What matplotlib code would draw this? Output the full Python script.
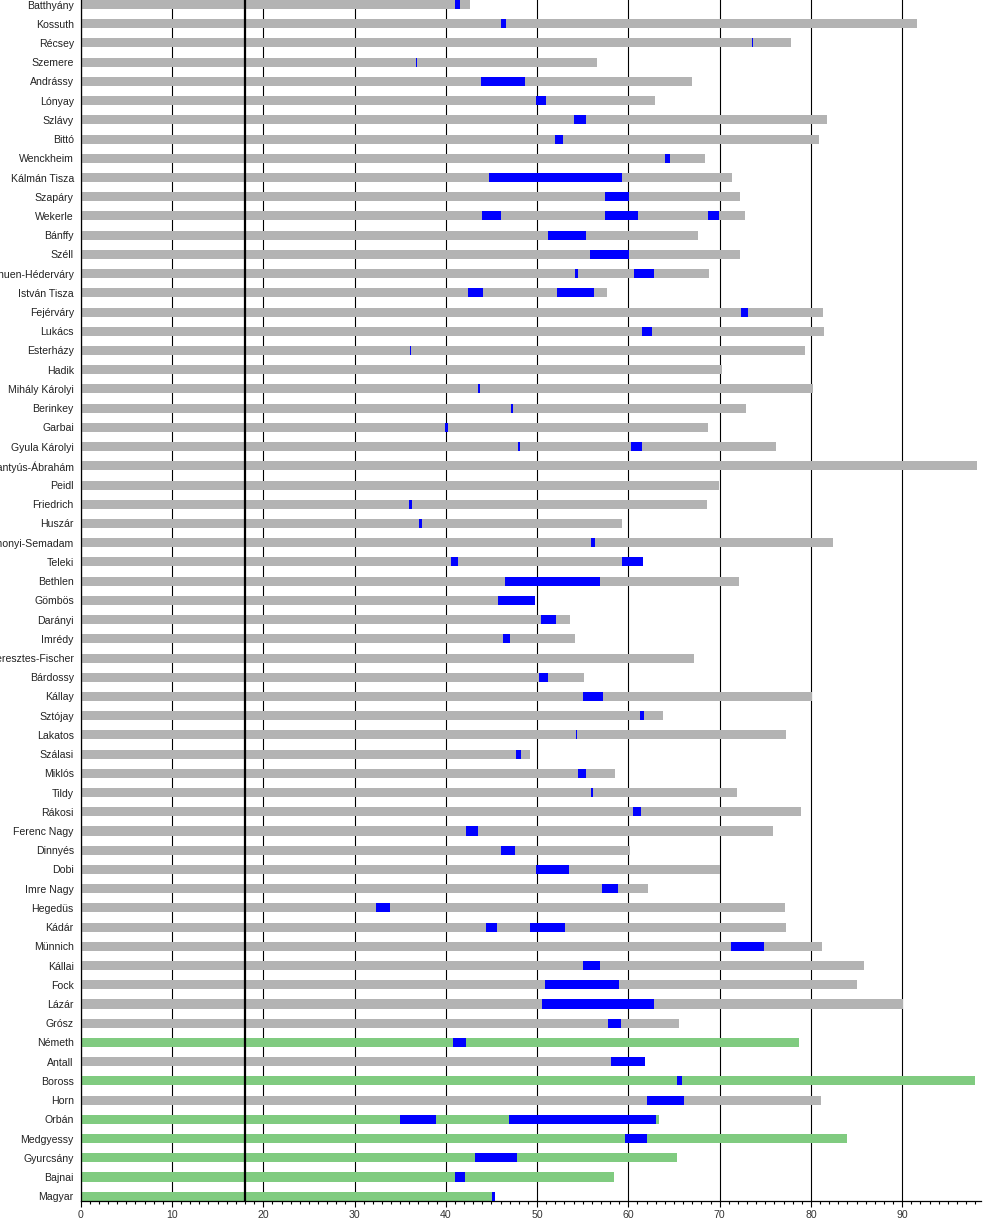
import matplotlib
matplotlib.use("Agg")
import matplotlib.pyplot as plt
from matplotlib.ticker import MultipleLocator

plt.rcParams['font.family'] = ['Liberation Sans', 'DejaVu Sans']

names = ["Batthyány", "Kossuth", "Récsey", "Szemere", "Andrássy", "Lónyay", "Szlávy", "Bittó",
         "Wenckheim", "Kálmán Tisza", "Szapáry", "Wekerle", "Bánffy", "Széll", "Khuen-Héderváry",
         "István Tisza", "Fejérváry", "Lukács", "Esterházy", "Hadik", "Mihály Károlyi", "Berinkey",
         "Garbai", "Gyula Károlyi", "Pattantyús-Ábrahám", "Peidl", "Friedrich", "Huszár",
         "Simonyi-Semadam", "Teleki", "Bethlen", "Gömbös", "Darányi", "Imrédy", "Keresztes-Fischer",
         "Bárdossy", "Kállay", "Sztójay", "Lakatos", "Szálasi", "Miklós", "Tildy", "Rákosi",
         "Ferenc Nagy", "Dinnyés", "Dobi", "Imre Nagy", "Hegedüs", "Kádár", "Münnich", "Kállai",
         "Fock", "Lázár", "Grósz", "Németh", "Antall", "Boross", "Horn", "Orbán", "Medgyessy",
         "Gyurcsány", "Bajnai", "Magyar"]

# age at death (or current age for living people)
life_end = [42.7, 91.57, 77.83, 56.52, 67.01, 62.97, 81.77, 80.9,
            68.43, 71.38, 72.26, 72.8, 67.67, 72.26, 68.87,
            57.61, 81.3, 81.41, 79.32, 70.22, 80.2, 72.85,
            68.68, 76.14, 98.15, 69.89, 68.57, 59.25,
            82.4, 61.55, 72.08, 49.82, 53.66, 54.2, 67.14,
            55.19, 80.09, 63.75, 77.24, 49.27, 58.59, 71.86, 78.94,
            75.81, 60.13, 70.04, 62.1, 77.13, 77.24, 81.17, 85.85,
            85.08, 90.07, 65.5, 78.66, 61.77, 97.95, 81.06, 63.31, 83.93,
            65.28, 58.48, 45.43]

alive = [False] * 54 + [True, False, True, False, True, True, True, True, True]

# terms of office as (age at start, age at end); empty where too short to see
tenures = [
    [(41.06, 41.6)],
    [(46.03, 46.58)],
    [(73.57, 73.64)],
    [(36.68, 36.86)],
    [(43.9, 48.65)],
    [(49.85, 50.95)],
    [(54.0, 55.32)],
    [(51.93, 52.8)],
    [(64.06, 64.6)],
    [(44.78, 59.25)],
    [(57.4, 60.02)],
    [(44.0, 46.1), (57.4, 61.11), (68.76, 69.96)],
    [(51.17, 55.32)],
    [(55.76, 60.02)],
    [(54.12, 54.44), (60.67, 62.86)],
    [(42.48, 44.12), (52.15, 56.19)],
    [(72.3, 73.07)],
    [(61.44, 62.54)],
    [(36.1, 36.2)],
    [],
    [(43.56, 43.78)],
    [(47.18, 47.4)],
    [(39.95, 40.27)],
    [(47.95, 48.17), (60.24, 61.44)],
    [],
    [],
    [(36.0, 36.33)],
    [(37.09, 37.42)],
    [(55.96, 56.29)],
    [(40.6, 41.37), (59.25, 61.55)],
    [(46.53, 56.84)],
    [(45.76, 49.82)],
    [(50.48, 52.12)],
    [(46.31, 47.07)],
    [],
    [(50.26, 51.24)],
    [(55.08, 57.17)],
    [(61.22, 61.66)],
    [(54.31, 54.42)],
    [(47.73, 48.28)],
    [(54.53, 55.41)],
    [(55.96, 56.18)],
    [(60.46, 61.33)],
    [(42.25, 43.56)],
    [(46.09, 47.62)],
    [(49.93, 53.55)],
    [(57.06, 58.81)],
    [(32.38, 33.91)],
    [(44.44, 45.65), (49.27, 53.11)],
    [(71.21, 74.83)],
    [(55.08, 56.84)],
    [(50.91, 58.92)],
    [(50.58, 62.76)],
    [(57.82, 59.14)],
    [(40.82, 42.25)],
    [(58.15, 61.77)],
    [(65.28, 65.83)],
    [(61.99, 66.05)],
    [(35.01, 38.96), (46.97, 62.98)],
    [(59.58, 61.99)],
    [(43.24, 47.84)],
    [(41.04, 42.14)],
    [(45.1, 45.43)],
]

adult_age = 18

GREY = "#b3b3b3"
GREEN = "#80cb80"
BLUE = "#0000ff"

fig = plt.figure(figsize=(10, 12.3), dpi=100)
ax = fig.add_axes([0.0807, 0.0238, 0.9, 0.9762])

h = 0.47
n = len(names)
ys = list(range(n))
colors = [GREEN if a else GREY for a in alive]
ax.barh(ys, life_end, height=h, color=colors, zorder=2, linewidth=0)
for i, segs in enumerate(tenures):
    for (s, e) in segs:
        ax.barh(i, e - s, left=s, height=h, color=BLUE, zorder=3, linewidth=0)

ax.axvline(adult_age, color="black", linewidth=1.6, zorder=4)

ax.set_xlim(0, 98.6)
ax.set_ylim(n - 1 + h / 2, -h / 2)

ax.xaxis.set_major_locator(MultipleLocator(10))
ax.xaxis.set_minor_locator(MultipleLocator(1))
ax.grid(axis="x", which="major", color="black", linewidth=0.8, zorder=1)
ax.set_axisbelow(True)

ax.set_yticks(ys)
ax.set_yticklabels(names)
ax.tick_params(axis="y", length=0, pad=5, labelsize=7.6, labelcolor="#222222")
ax.tick_params(axis="x", which="major", length=4, width=0.8, pad=3, labelsize=7.6,
               labelcolor="#333333", direction="out")
ax.tick_params(axis="x", which="minor", length=2.3, width=0.8, direction="out")

for side in ["top", "right"]:
    ax.spines[side].set_visible(False)
for side in ["left", "bottom"]:
    ax.spines[side].set_linewidth(0.9)
    ax.spines[side].set_color("black")

fig.savefig("out.png", dpi=100)
